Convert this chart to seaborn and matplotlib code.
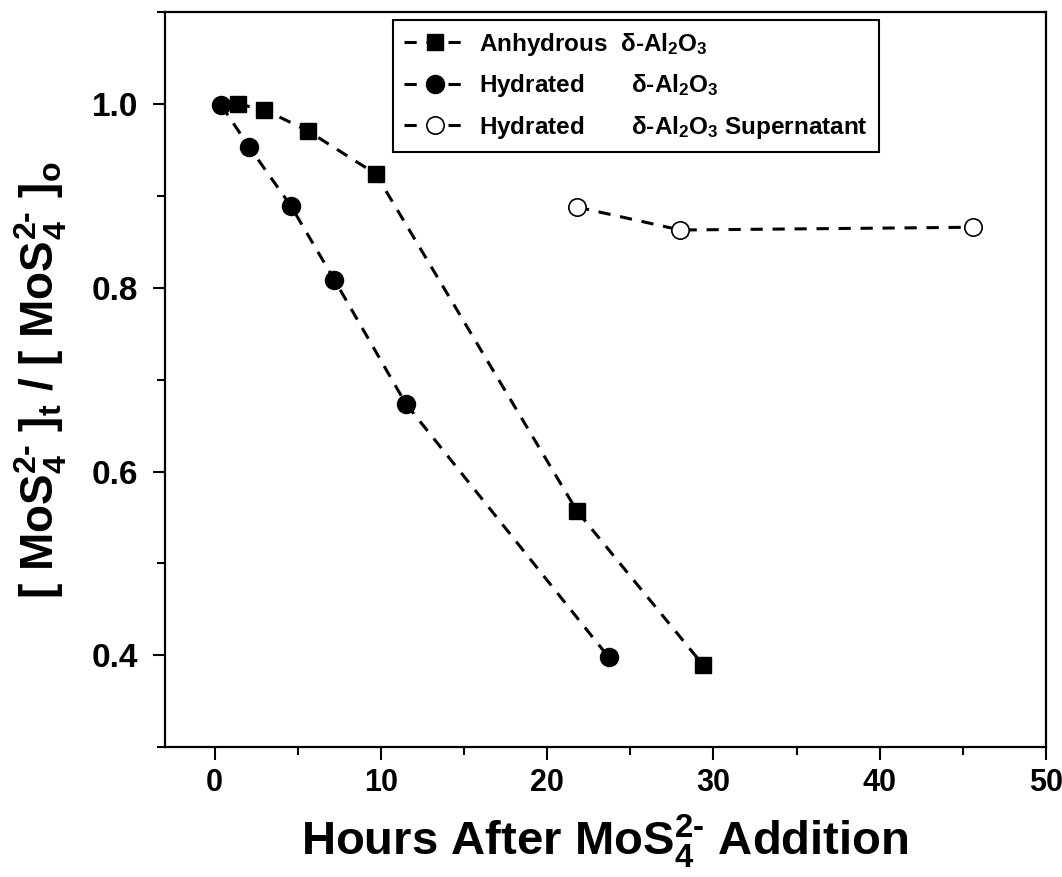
import matplotlib
matplotlib.use("Agg")
import matplotlib.pyplot as plt
from matplotlib.ticker import MultipleLocator
import seaborn as sns

# ---- data ----
anhyd_x = [1.4, 3.0, 5.6, 9.7, 21.8, 29.4]
anhyd_y = [1.000, 0.994, 0.971, 0.924, 0.557, 0.389]
hyd_x = [0.4, 2.1, 4.6, 7.2, 11.5, 23.7]
hyd_y = [0.999, 0.953, 0.889, 0.809, 0.674, 0.398]
super_x = [21.8, 28.0, 45.6]
super_y = [0.888, 0.863, 0.866]
labels = [r"Anhydrous  $\delta$-Al$_2$O$_3$",
          r"Hydrated       $\delta$-Al$_2$O$_3$",
          r"Hydrated       $\delta$-Al$_2$O$_3$ Supernatant"]
x_ticks = [0, 10, 20, 30, 40, 50]
y_ticks = [0.4, 0.6, 0.8, 1.0]

sns.set_theme(style="ticks")
plt.rcParams["font.family"] = ["Liberation Sans", "DejaVu Sans"]
plt.rcParams["font.weight"] = "bold"
plt.rcParams["mathtext.fontset"] = "custom"
plt.rcParams["mathtext.rm"] = "Liberation Sans:bold"
plt.rcParams["mathtext.it"] = "Liberation Sans:bold"
plt.rcParams["mathtext.bf"] = "Liberation Sans:bold"
for k in ["text.color", "axes.labelcolor", "xtick.color", "ytick.color",
          "axes.edgecolor"]:
    plt.rcParams[k] = "black"

fig = plt.figure(figsize=(10.62, 8.77), dpi=100)
ax = fig.add_axes([0.155, 0.148, 0.83, 0.838])

dash = (0, (4, 3.2))
common = dict(color="black", lw=2.2, linestyle=dash, ax=ax, sort=False)
sns.lineplot(x=anhyd_x, y=anhyd_y, marker="s", ms=11, mfc="black", mec="black",
             mew=1, label=labels[0], **common)
sns.lineplot(x=hyd_x, y=hyd_y, marker="o", ms=13, mfc="black", mec="black",
             mew=1, label=labels[1], **common)
sns.lineplot(x=super_x, y=super_y, marker="o", ms=12.5, mfc="white", mec="black",
             mew=1.2, label=labels[2], **common)

ax.set_xlim(-3, 50)
ax.set_ylim(0.3, 1.1)
ax.set_xticks(x_ticks)
ax.set_yticks(y_ticks)
ax.xaxis.set_minor_locator(MultipleLocator(5))
ax.yaxis.set_minor_locator(MultipleLocator(0.1))
ax.tick_params(which="major", direction="out", length=9, width=1.5, color="black",
               labelcolor="black")
ax.tick_params(which="minor", direction="out", length=6, width=1.5, color="black")
for s in ax.spines.values():
    s.set_linewidth(1.6)
    s.set_color("black")

for t in ax.get_xticklabels():
    t.set_fontsize(22)
    t.set_fontweight("bold")
for t in ax.get_yticklabels():
    t.set_fontsize(24)
    t.set_fontweight("bold")
ax.tick_params(axis="x", pad=6)
ax.tick_params(axis="y", pad=10)

ax.set_xlabel(r"Hours After MoS$_4^{2\text{-}}$ Addition", fontsize=34,
              fontweight="bold", labelpad=10, color="black")
ax.set_ylabel(r"[ MoS$_4^{2\text{-}}$ ]$_t$ / [ MoS$_4^{2\text{-}}$ ]$_o$",
              fontsize=33, fontweight="bold", labelpad=16, color="black")

leg = ax.legend(loc="upper left", bbox_to_anchor=(0.259, 0.99), fontsize=17.5,
                frameon=True, fancybox=False, edgecolor="black", framealpha=1,
                handlelength=2.6, handletextpad=0.5, labelspacing=0.6,
                borderpad=0.45, borderaxespad=0)
leg.get_frame().set_linewidth(1.5)
for t in leg.get_texts():
    t.set_fontweight("bold")
    t.set_color("black")

fig.savefig("out.png", dpi=100)
